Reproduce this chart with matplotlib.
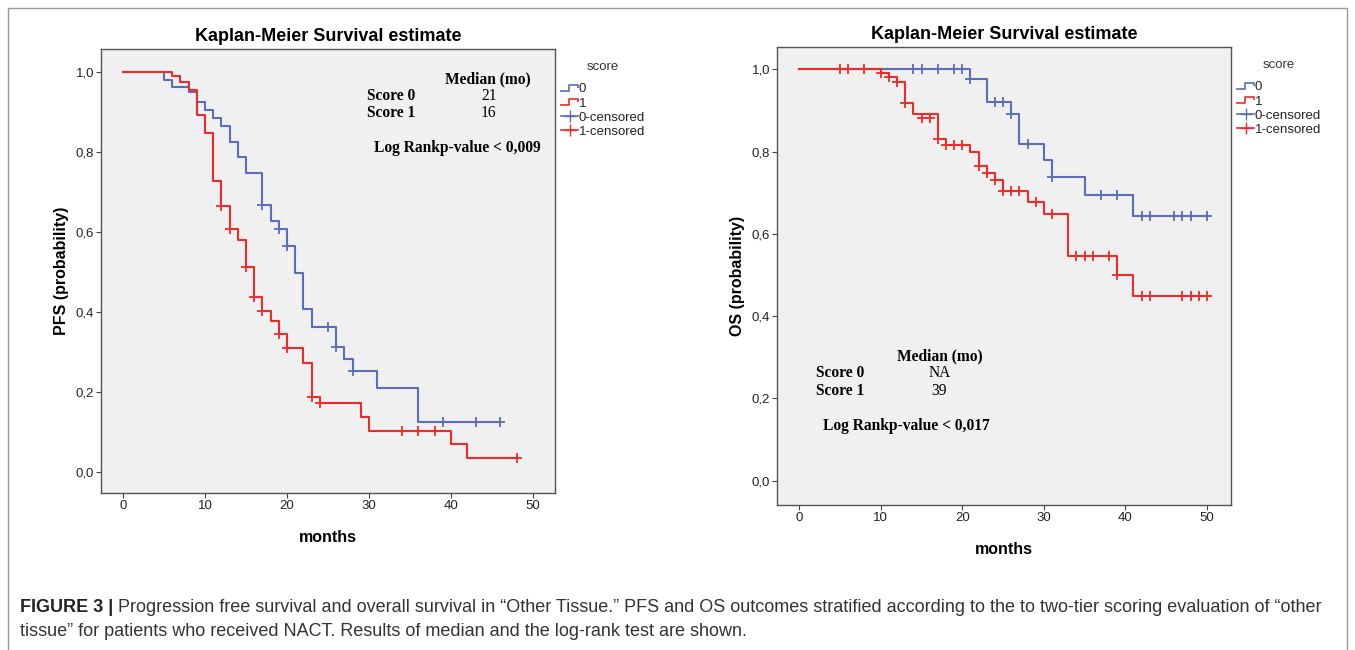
import numpy as np
import matplotlib
matplotlib.use('Agg')
import matplotlib.pyplot as plt
from matplotlib.lines import Line2D
from matplotlib.path import Path
from matplotlib.patches import Rectangle

# ============================================================
# 1. KM curves (months, probability)
# ============================================================
# PFS, score 0
pfs0_t = [0, 5, 6, 8, 9, 10, 11, 12, 13, 14, 15, 17, 18, 19, 20, 21, 22, 23, 26, 27, 28, 31, 36, 46]
pfs0_s = [1.0, 0.98, 0.963, 0.949, 0.925, 0.904, 0.884, 0.865, 0.826, 0.787, 0.747, 0.667, 0.627,
          0.607, 0.565, 0.498, 0.408, 0.362, 0.313, 0.283, 0.253, 0.21, 0.126, 0.126]
pfs0_ct = [17, 19, 20, 25, 26, 28, 39, 43, 46]
pfs0_cs = [0.667, 0.607, 0.565, 0.362, 0.313, 0.253, 0.126, 0.126, 0.126]

# PFS, score 1
pfs1_t = [0, 6, 7, 8, 9, 10, 11, 12, 13, 14, 15, 16, 17, 18, 19, 20, 22, 23, 24, 29, 30, 40, 42, 48]
pfs1_s = [1.0, 0.99, 0.975, 0.955, 0.893, 0.847, 0.727, 0.666, 0.607, 0.58, 0.513, 0.437, 0.403,
          0.378, 0.345, 0.309, 0.273, 0.187, 0.172, 0.138, 0.103, 0.069, 0.034, 0.034]
pfs1_ct = [12, 13, 15, 16, 17, 19, 20, 23, 24, 34, 36, 38, 48]
pfs1_cs = [0.666, 0.607, 0.513, 0.437, 0.403, 0.345, 0.309, 0.187, 0.172, 0.103, 0.103, 0.103, 0.034]

# OS, score 0
os0_t = [0, 21, 23, 26, 27, 30, 31, 35, 41, 50]
os0_s = [1.0, 0.976, 0.921, 0.891, 0.818, 0.78, 0.739, 0.694, 0.643, 0.643]
os0_ct = [14, 15, 17, 19, 20, 21, 24, 25, 26, 28, 31, 37, 39, 42, 43, 46, 47, 48, 50]
os0_cs = [1.0, 1.0, 1.0, 1.0, 1.0, 0.976, 0.921, 0.921, 0.891, 0.818, 0.739, 0.694, 0.694,
          0.643, 0.643, 0.643, 0.643, 0.643, 0.643]

# OS, score 1
os1_t = [0, 10, 11, 12, 13, 14, 17, 18, 21, 22, 23, 24, 25, 28, 30, 33, 39, 41, 50]
os1_s = [1.0, 0.99, 0.982, 0.97, 0.919, 0.891, 0.83, 0.816, 0.80, 0.765, 0.747, 0.731, 0.705,
         0.678, 0.648, 0.545, 0.50, 0.449, 0.449]
os1_ct = [5, 6, 8, 10, 11, 12, 13, 15, 16, 17, 18, 19, 20, 22, 23, 24, 25, 26, 27, 29, 31,
          34, 35, 36, 38, 39, 42, 43, 47, 48, 49, 50]
os1_cs = [1.0, 1.0, 1.0, 0.99, 0.982, 0.97, 0.919, 0.881, 0.881, 0.83, 0.816, 0.816, 0.816,
          0.765, 0.747, 0.731, 0.705, 0.705, 0.705, 0.678, 0.648, 0.545, 0.545, 0.545, 0.545,
          0.50, 0.449, 0.449, 0.449, 0.449, 0.449, 0.449]

yticks = [0.0, 0.2, 0.4, 0.6, 0.8, 1.0]
ytick_labels = ['0,0', '0,2', '0,4', '0,6', '0,8', '1,0']
xticks = [0, 10, 20, 30, 40, 50]

BLUE = '#5b6cb8'
RED = '#ee2a2a'
BG = '#f0f0f0'
SERIF = ['Liberation Serif', 'DejaVu Serif']

caption_bold = 'FIGURE 3 |'
caption_1 = (' Progression free survival and overall survival in \u201cOther Tissue.\u201d PFS and OS outcomes '
             'stratified according to the to two-tier scoring evaluation of \u201cother')
caption_2 = 'tissue\u201d for patients who received NACT. Results of median and the log-rank test are shown.'

plt.rcParams['font.family'] = ['Liberation Sans', 'DejaVu Sans']

W, H = 1355, 650
fig = plt.figure(figsize=(W / 100, H / 100), dpi=100)


def px_axes(l, t, r, b):
    return fig.add_axes([l / W, 1 - b / H, (r - l) / W, (b - t) / H])


# step shaped legend handle
step_path = Path([(-1.0, -0.35), (-0.1, -0.35), (-0.1, 0.35), (0.8, 0.35), (0.8, 0.0)],
                 [Path.MOVETO, Path.LINETO, Path.LINETO, Path.LINETO, Path.LINETO])


def km_panel(ax, curves, xlim, ylim, ylabel):
    ax.set_facecolor(BG)
    for t, s, ct, cs, col in curves:
        ax.step(t, s, where='post', color=col, lw=1.5)
        ax.plot(ct, cs, '+', color=col, ms=7, mew=1.3)
    ax.set_xlim(xlim)
    ax.set_ylim(ylim)
    ax.set_xticks(xticks)
    ax.set_yticks(yticks)
    ax.set_yticklabels(ytick_labels)
    ax.tick_params(labelsize=9.5, length=3.5, pad=1.5, color='#444444', labelcolor='#222222')
    for sp in ax.spines.values():
        sp.set_color('#555555')
        sp.set_linewidth(1.0)
    ax.set_title('Kaplan-Meier Survival estimate', fontsize=13, fontweight='bold', pad=6)
    ax.set_xlabel('months', fontsize=11.5, fontweight='bold', labelpad=13)
    ax.set_ylabel(ylabel, fontsize=11.5, fontweight='bold', labelpad=5)

    handles = [Line2D([], [], color=BLUE, marker=step_path, ls='none', ms=14, mew=1.2, fillstyle='none'),
               Line2D([], [], color=RED, marker=step_path, ls='none', ms=14, mew=1.2, fillstyle='none'),
               Line2D([], [], color=BLUE, marker='+', ls='-', lw=1.2, ms=8),
               Line2D([], [], color=RED, marker='+', ls='-', lw=1.2, ms=8)]
    leg = ax.legend(handles, ['0', '1', '0-censored', '1-censored'], title='score',
                    loc='upper left', bbox_to_anchor=(0.993, 0.993), frameon=False,
                    fontsize=9.5, title_fontsize=9.5, handlelength=1.3, handletextpad=0.05,
                    labelspacing=0.15, borderaxespad=0.3)
    leg.get_title().set_color('#333333')
    leg._legend_box.sep = 7
    for txt in leg.get_texts():
        txt.set_color('#222222')


# ---------- left: PFS ----------
ax1 = px_axes(101, 49, 555, 493)
km_panel(ax1, [(pfs0_t, pfs0_s, pfs0_ct, pfs0_cs, BLUE), (pfs1_t, pfs1_s, pfs1_ct, pfs1_cs, RED)],
         (-2.68, 52.68), (-0.0525, 1.0575), 'PFS (probability)')
FS = 11.2
kw = dict(family=SERIF, fontsize=FS, fontweight='bold', va='center')
ax1.text(44.5, 0.982, 'Median (mo)', ha='center', **kw)
ax1.text(29.8, 0.940, 'Score 0', ha='left', **kw)
ax1.text(29.8, 0.897, 'Score 1', ha='left', **kw)
ax1.text(44.6, 0.940, '21', ha='center', family=SERIF, fontsize=FS, va='center')
ax1.text(44.6, 0.897, '16', ha='center', family=SERIF, fontsize=FS, va='center')
ax1.text(30.6, 0.810, 'Log Rankp-value < 0,009', ha='left', **kw)

# ---------- right: OS ----------
ax2 = px_axes(777, 47, 1231, 505)
km_panel(ax2, [(os0_t, os0_s, os0_ct, os0_cs, BLUE), (os1_t, os1_s, os1_ct, os1_cs, RED)],
         (-2.73, 52.96), (-0.059, 1.054), 'OS (probability)')
ax2.text(17.2, 0.303, 'Median (mo)', ha='center', **kw)
ax2.text(2.1, 0.262, 'Score 0', ha='left', **kw)
ax2.text(2.1, 0.218, 'Score 1', ha='left', **kw)
ax2.text(17.2, 0.262, 'NA', ha='center', family=SERIF, fontsize=FS, va='center')
ax2.text(17.2, 0.218, '39', ha='center', family=SERIF, fontsize=FS, va='center')
ax2.text(2.9, 0.132, 'Log Rankp-value < 0,017', ha='left', **kw)

# ---------- frame and caption ----------
fig.add_artist(Rectangle((8 / W, -0.1), (1347 - 8) / W, 1.1 - 8 / H, transform=fig.transFigure,
                         fill=False, edgecolor='#9a9a9a', lw=1.0))
CFS = 13.0
t_bold = fig.text(20 / W, 1 - 608 / H, caption_bold, fontsize=CFS, fontweight='bold',
                  va='center', ha='left', color='#222222')
fig.canvas.draw()
bb = t_bold.get_window_extent(fig.canvas.get_renderer())
fig.text(bb.x1 / W, 1 - 608 / H, caption_1, fontsize=CFS, va='center', ha='left', color='#333333')
fig.text(20 / W, 1 - 631 / H, caption_2, fontsize=CFS, va='center', ha='left', color='#333333')

fig.savefig('out.png', dpi=100, facecolor='white')
